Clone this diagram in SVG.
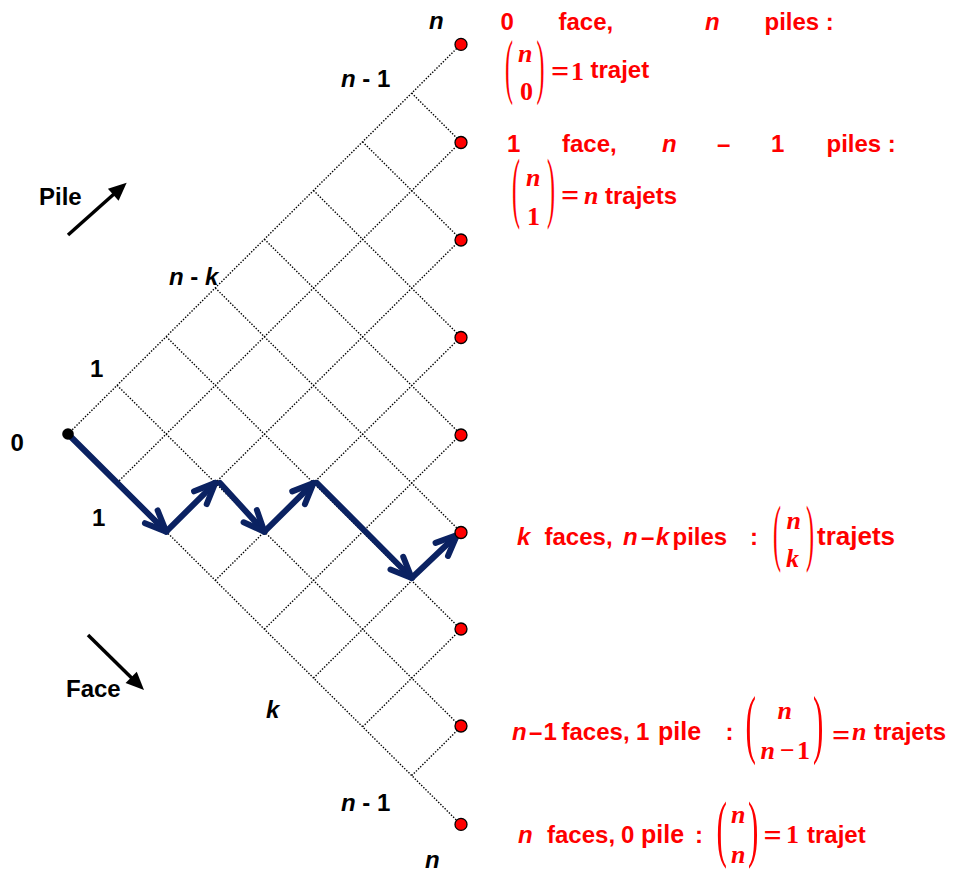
<svg xmlns="http://www.w3.org/2000/svg" width="953" height="872" viewBox="0 0 953 872">
<style>
.lb{font-family:"Liberation Sans",Arial,sans-serif;font-weight:bold;font-size:24px;fill:#000}
.rd{font-family:"Liberation Sans",Arial,sans-serif;font-weight:bold;font-size:24px;fill:#f00}
.it{font-style:italic}
.sf{font-family:"Liberation Serif","Times New Roman",serif;font-weight:bold;font-size:26px;fill:#f00}
.par{font-family:"Liberation Serif","Times New Roman",serif;font-size:24px;fill:#f00}
.eq{font-family:"Liberation Serif","Times New Roman",serif;font-weight:bold;font-size:32px;fill:#f00;text-anchor:middle}
.grid line{stroke:#000;stroke-width:1.4;stroke-dasharray:1.4 1.6}
.dot{fill:#f00;stroke:#000;stroke-width:1.3}
.path{stroke:#0b2262;stroke-width:6;stroke-linecap:round;fill:none;marker-end:url(#chev)}
.dir{stroke:#000;stroke-width:3.5;fill:none;marker-end:url(#tri)}
</style>
<defs>
<marker id="chev" markerUnits="userSpaceOnUse" orient="auto" refX="0" refY="0" markerWidth="50" markerHeight="50" viewBox="-35 -25 50 50" overflow="visible">
<path d="M-21,-9 L0,0 L-21,9" fill="none" stroke="#0b2262" stroke-width="6" stroke-linecap="round" stroke-linejoin="round"/>
</marker>
<marker id="tri" markerUnits="userSpaceOnUse" orient="auto" refX="0" refY="0" markerWidth="40" markerHeight="40" viewBox="-30 -20 40 40" overflow="visible">
<path d="M8,0 L-10,-8 L-10,8 Z" fill="#000"/>
</marker>
</defs>

<g id="grid" class="grid">
<line x1="68" y1="434" x2="460.8" y2="44.4"/>
<line x1="117.1" y1="482.8" x2="460.8" y2="141.9"/>
<line x1="166.2" y1="531.6" x2="460.8" y2="239.4"/>
<line x1="215.3" y1="580.4" x2="460.8" y2="336.9"/>
<line x1="264.4" y1="629.2" x2="460.8" y2="434.4"/>
<line x1="313.5" y1="678" x2="460.8" y2="531.9"/>
<line x1="362.6" y1="726.8" x2="460.8" y2="629.4"/>
<line x1="411.7" y1="775.6" x2="460.8" y2="726.9"/>
<line x1="68" y1="434" x2="460.8" y2="824.4"/>
<line x1="117.1" y1="385.3" x2="460.8" y2="726.9"/>
<line x1="166.2" y1="336.6" x2="460.8" y2="629.4"/>
<line x1="215.3" y1="287.9" x2="460.8" y2="531.9"/>
<line x1="264.4" y1="239.2" x2="460.8" y2="434.4"/>
<line x1="313.5" y1="190.5" x2="460.8" y2="336.9"/>
<line x1="362.6" y1="141.8" x2="460.8" y2="239.4"/>
<line x1="411.7" y1="93.1" x2="460.8" y2="141.9"/>
</g>

<g id="connectors">
<line class="path" x1="68" y1="434" x2="166.2" y2="531.6"/>
<line class="path" x1="166.2" y1="531.6" x2="215.3" y2="482.9"/>
<line class="path" x1="220" y1="483" x2="264.4" y2="531.7"/>
<line class="path" x1="264.4" y1="531.7" x2="313.5" y2="483"/>
<line class="path" x1="317" y1="483" x2="411.7" y2="578"/>
<line class="path" x1="411.7" y1="578" x2="457" y2="535"/>
<line class="dir" x1="68" y1="235" x2="120.7" y2="188"/>
<line class="dir" x1="88" y1="635" x2="138.3" y2="684.4"/>
</g>

<g id="origin"><circle cx="68" cy="434" r="5.8" fill="#000"/></g>
<g id="ends">
<circle class="dot" cx="461" cy="44.4" r="6"/>
<circle class="dot" cx="461" cy="142.5" r="6"/>
<circle class="dot" cx="461" cy="240" r="6"/>
<circle class="dot" cx="461" cy="337.5" r="6"/>
<circle class="dot" cx="461" cy="435" r="6"/>
<circle class="dot" cx="461" cy="532.5" r="6"/>
<circle class="dot" cx="461" cy="629" r="6"/>
<circle class="dot" cx="461" cy="726" r="6"/>
<circle class="dot" cx="461" cy="824.4" r="6"/>
</g>

<g id="axis-labels">
<text class="lb it" x="429" y="29">n</text>
<text class="lb" x="341" y="87"><tspan class="it">n</tspan> - 1</text>
<text class="lb" x="39" y="205">Pile</text>
<text class="lb" x="169" y="285"><tspan class="it">n</tspan> - <tspan class="it">k</tspan></text>
<text class="lb" x="90" y="377">1</text>
<text class="lb" x="10.5" y="451">0</text>
<text class="lb" x="92" y="526">1</text>
<text class="lb" x="66" y="697">Face</text>
<text class="lb it" x="266" y="718">k</text>
<text class="lb" x="341" y="811"><tspan class="it">n</tspan> - 1</text>
<text class="lb it" x="425" y="868">n</text>
</g>

<g id="row0">
<text class="rd" y="30"><tspan x="500.5">0</tspan><tspan x="558.5">face,</tspan><tspan x="705" class="it">n</tspan><tspan x="764.5">piles :</tspan></text>
<text class="par" transform="translate(505,90) scale(1,3)">(</text>
<text class="sf it" x="518" y="62">n</text>
<text class="sf" x="520" y="100">0</text>
<text class="par" transform="translate(536.5,90) scale(1,3)">)</text>
<text class="eq" x="560" y="82">=</text>
<text class="sf" x="571" y="80">1</text>
<text class="rd" x="590.5" y="78">trajet</text>
</g>

<g id="row1">
<text class="rd" y="152"><tspan x="507">1</tspan><tspan x="562">face,</tspan><tspan x="662" class="it">n</tspan><tspan x="717">–</tspan><tspan x="771">1</tspan><tspan x="826.5">piles :</tspan></text>
<text class="par" transform="translate(512,213) scale(1,3.3)">(</text>
<text class="sf it" x="526" y="186">n</text>
<text class="sf" x="527" y="225">1</text>
<text class="par" transform="translate(547,213) scale(1,3.3)">)</text>
<text class="eq" x="570" y="206">=</text>
<text class="sf it" x="584" y="204">n</text>
<text class="rd" x="605" y="204">trajets</text>
</g>

<g id="rowk">
<text class="rd" y="545"><tspan x="517" class="it">k</tspan><tspan x="544.5">faces,</tspan><tspan x="623" class="it">n</tspan><tspan x="641">–</tspan><tspan x="656" class="it">k</tspan><tspan x="672.5">piles</tspan><tspan x="750">:</tspan></text>
<text class="par" transform="translate(773,557) scale(1,3.1)">(</text>
<text class="sf it" x="786.5" y="529">n</text>
<text class="sf it" x="786" y="567">k</text>
<text class="par" transform="translate(806,557) scale(1,3.1)">)</text>
<text class="rd" x="817" y="545" style="font-size:26px">trajets</text>
</g>

<g id="rown1">
<text class="rd" y="740"><tspan x="512" class="it">n</tspan><tspan x="529">–</tspan><tspan x="543.5">1</tspan><tspan x="561.5">faces,</tspan><tspan x="636">1</tspan><tspan x="658" style="font-size:25px">pile</tspan><tspan x="725.5">:</tspan></text>
<text class="par" transform="translate(745.5,749) scale(1.3,3.15)">(</text>
<text class="sf it" x="777.5" y="719">n</text>
<text class="sf" y="759"><tspan x="760.5" class="it">n</tspan><tspan x="780">−</tspan><tspan x="797">1</tspan></text>
<text class="par" transform="translate(813,749) scale(1.3,3.15)">)</text>
<text class="eq" x="841" y="746">=</text>
<text class="sf it" x="852" y="740">n</text>
<text class="rd" x="874" y="740">trajets</text>
</g>

<g id="rown">
<text class="rd" y="843"><tspan x="518" class="it">n</tspan><tspan x="547">faces,</tspan><tspan x="621">0</tspan><tspan x="641" style="font-size:25px">pile</tspan><tspan x="695">:</tspan></text>
<text class="par" transform="translate(716.5,853) scale(1.3,3.1)">(</text>
<text class="sf it" x="731" y="823">n</text>
<text class="sf it" x="731" y="863">n</text>
<text class="par" transform="translate(748,853) scale(1.3,3.1)">)</text>
<text class="eq" x="772.5" y="846">=</text>
<text class="sf" x="786" y="843">1</text>
<text class="rd" x="807" y="843">trajet</text>
</g>
</svg>
